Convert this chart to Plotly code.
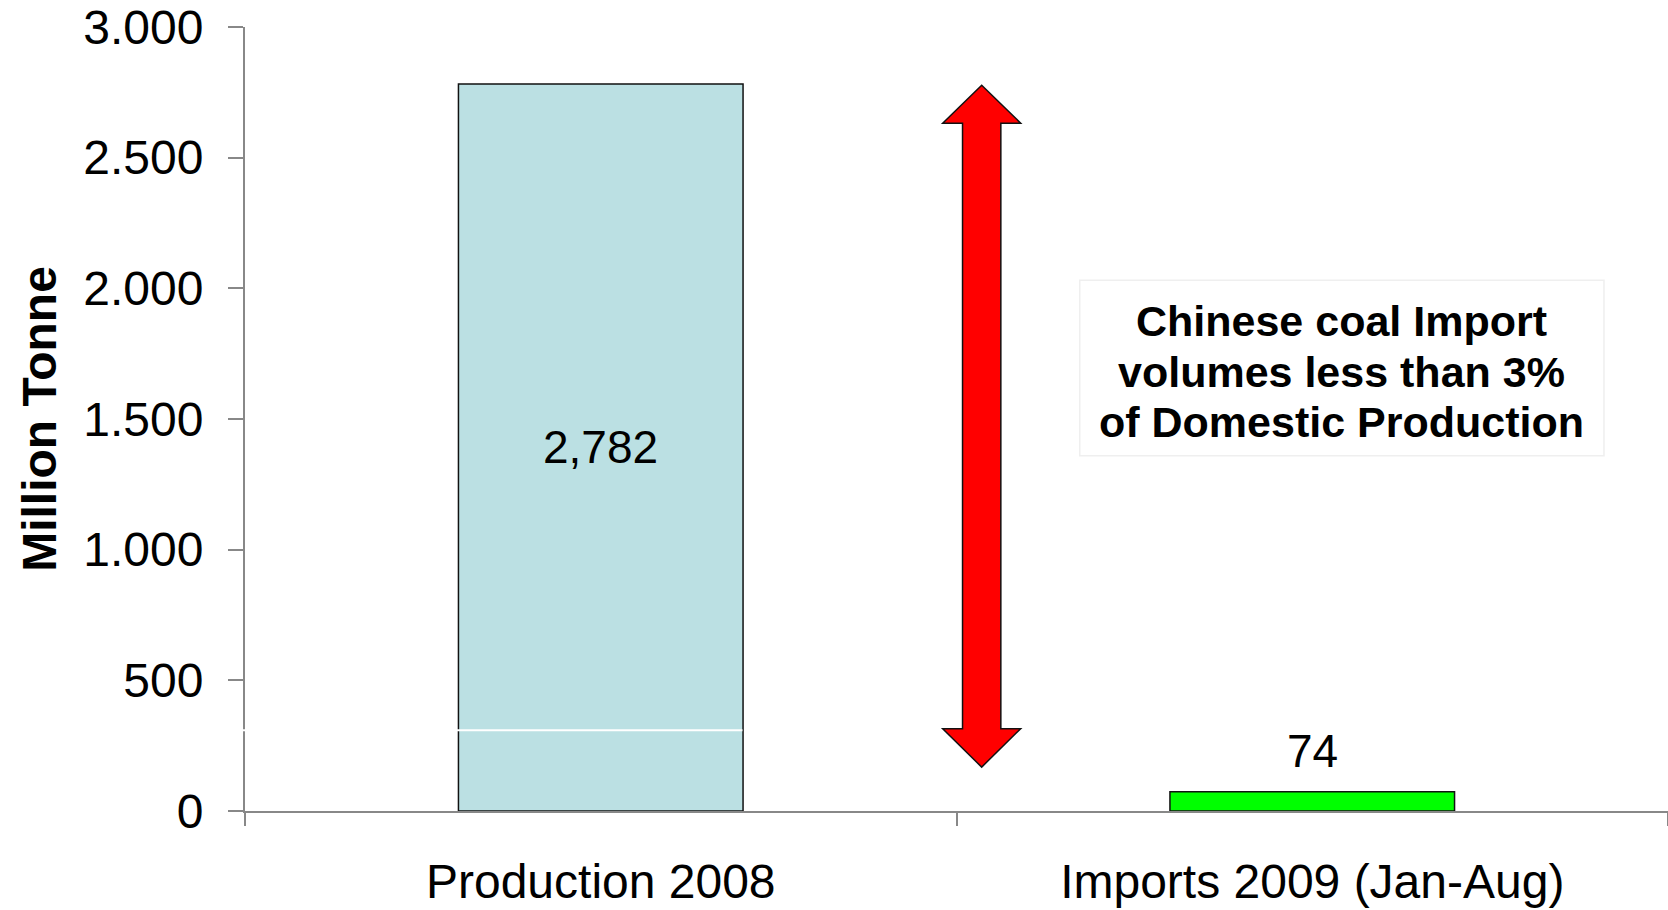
import plotly.graph_objects as go

# ---- data ----
categories = ["Production 2008", "Imports 2009 (Jan-Aug)"]
values = [2782, 74]
value_labels = ["2,782", "74"]
bar_colors = ["#BBE0E3", "#00FF00"]
y_tickvals = [0, 500, 1000, 1500, 2000, 2500, 3000]
y_ticktext = ["0", "500", "1.000", "1.500", "2.000", "2.500", "3.000"]
y_title = "Million Tonne"
box_lines = ["Chinese coal Import", "volumes less than 3%", "of Domestic Production"]

# decoration geometry (data units for y, paper units for x)
arrow_y = [2777, 2632, 315, 168]   # top tip, top head base, bottom head base, bottom tip
box_line_y = [1876, 1681, 1490]
box_y = [1359, 2031]
white_line_y = 309

FONT = "Liberation Sans, Arial, sans-serif"

fig = go.Figure()
fig.add_trace(go.Bar(
    x=categories, y=values, width=0.4,
    marker=dict(color=bar_colors, line=dict(color="#111111", width=1.5)),
    hoverinfo="skip", showlegend=False,
))

# value labels
fig.add_annotation(x=categories[0], y=values[0] / 2, text=value_labels[0], showarrow=False,
                   font=dict(family=FONT, size=46, color="black"), xref="x", yref="y")
fig.add_annotation(x=categories[1], y=values[1], text=value_labels[1], showarrow=False,
                   yanchor="middle", yshift=41,
                   font=dict(family=FONT, size=46, color="black"), xref="x", yref="y")

# thin white line across first bar
fig.add_shape(type="line", xref="paper", yref="y", x0=-0.003, x1=0.3496,
              y0=white_line_y, y1=white_line_y, line=dict(color="white", width=2), layer="above")

# red double-headed arrow
cx, hw, sw = 0.5177, 0.0274, 0.01346
t, hb, bb, b = arrow_y
path = (f"M {cx},{t} L {cx+hw},{hb} L {cx+sw},{hb} L {cx+sw},{bb} L {cx+hw},{bb} "
        f"L {cx},{b} L {cx-hw},{bb} L {cx-sw},{bb} L {cx-sw},{hb} L {cx-hw},{hb} Z")
fig.add_shape(type="path", xref="paper", yref="y", path=path,
              fillcolor="#FF0000", line=dict(color="#111111", width=1.5), layer="above")

# text box
fig.add_shape(type="rect", xref="paper", yref="y", x0=0.5866, x1=0.955,
              y0=box_y[0], y1=box_y[1], line=dict(color="#EFEFEF", width=1.5),
              fillcolor="white", layer="above")
for txt, yy in zip(box_lines, box_line_y):
    fig.add_annotation(x=0.7708, xref="paper", y=yy, yref="y", text=f"<b>{txt}</b>",
                       xanchor="center", yanchor="middle",
                       showarrow=False, font=dict(family=FONT, size=43, color="black"))

fig.update_layout(
    width=1668, height=910,
    margin=dict(l=245, r=0, t=27, b=99),
    plot_bgcolor="white", paper_bgcolor="white",
    font=dict(family=FONT, color="black"),
    bargap=0.6,
)
fig.update_xaxes(
    showgrid=False, showline=True, linecolor="#888888", linewidth=2,
    ticks="outside", tickson="boundaries", ticklen=13, tickcolor="#888888", tickwidth=1.5,
    tickfont=dict(family=FONT, size=48, color="black"), ticklabelstandoff=27,
    range=[-0.5, 1.5],
)
fig.update_yaxes(
    range=[0, 3000], showgrid=False, zeroline=False, showline=True,
    linecolor="#888888", linewidth=2,
    ticks="outside", ticklen=15, tickcolor="#888888", tickwidth=1.5,
    tickvals=y_tickvals, ticktext=y_ticktext, ticklabeloverflow="allow",
    tickfont=dict(family=FONT, size=48, color="black"), ticklabelstandoff=15,
    title=dict(text=f"<b>{y_title}</b>", font=dict(family=FONT, size=48, color="black"), standoff=11),
)

fig.write_html("out.html", config={"displayModeBar": False},
               post_script="document.body.style.margin='0';document.body.style.overflow='hidden';")
